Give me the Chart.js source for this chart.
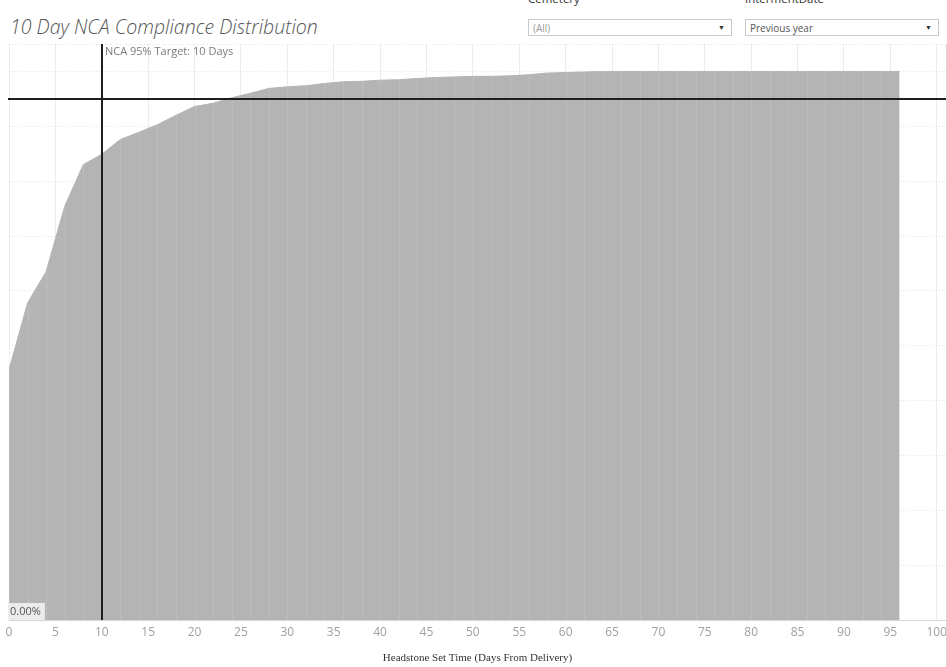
<!DOCTYPE html>
<html>
<head>
<meta charset="utf-8">
<script src="https://cdn.jsdelivr.net/npm/chart.js@4.4.0/dist/chart.umd.min.js"></script>
<style>
  body { margin: 0; background: #fff; width: 947px; height: 667px; overflow: hidden; position: relative; font-family: "Open Sans", sans-serif; }
  #chart { position: absolute; left: 0; top: 0; }
  .title { position: absolute; left: 10px; top: 13px; font-size: 19.5px; font-style: italic; font-weight: 300; color: #555; white-space: nowrap; }
  .flabel { position: absolute; top: -9px; font-size: 11.5px; color: #333; }
  .dd { position: absolute; top: 19px; height: 17px; border: 1px solid #c9c9c9; font-size: 10px; line-height: 16px; padding-left: 4px; box-sizing: border-box; }
  .dd .arr { position: absolute; right: 6px; top: 0; font-size: 7px; color: #333; }
</style>
</head>
<body>
<div class="title">10 Day NCA Compliance Distribution</div>
<div class="flabel" style="left:528px">Cemetery</div>
<div class="dd" style="left:528px; width:204px; color:#9a9a9a">(All)<span class="arr">&#9660;</span></div>
<div class="flabel" style="left:745px">IntermentDate</div>
<div class="dd" style="left:745px; width:194px; color:#555">Previous year<span class="arr">&#9660;</span></div>
<canvas id="chart" width="947" height="667"></canvas>
<script>
// days from delivery (binned) and cumulative % of headstones set
const days = [0, 2, 4, 6, 8, 10, 12, 14, 16, 18, 20, 22, 24, 26, 28, 30, 32, 34, 36, 38, 40, 42, 44, 46, 48,
              50, 52, 54, 56, 58, 60, 62, 64, 66, 68, 70, 72, 74, 76, 78, 80, 82, 84, 86, 88, 90, 92, 94, 96];
const cumPct = [45.6, 57.8, 63.5, 75.4, 83.0, 84.9, 87.6, 88.9, 90.3, 92.0, 93.6, 94.2, 95.2, 96.0, 96.9, 97.2, 97.4, 97.8, 98.1, 98.2, 98.4, 98.5, 98.7, 98.9, 99.0,
                99.1, 99.1, 99.2, 99.4, 99.7, 99.8, 99.9, 100, 100, 100, 100, 100, 100, 100, 100, 100, 100, 100, 100, 100, 100, 100, 100, 100];
const xTicks = [0, 5, 10, 15, 20, 25, 30, 35, 40, 45, 50, 55, 60, 65, 70, 75, 80, 85, 90, 95, 100];
const yGrid = [0, 10, 20, 30, 40, 50, 60, 70, 80, 90, 100, 105];
const targetDay = 10;
const targetPct = 95;
const targetLabel = 'NCA 95% Target: 10 Days';

// extra drawing: faint seams at each point, target lines, labels, border
const overlay = {
    id: 'overlay',
    afterDatasetsDraw(chart) {
        const ctx = chart.ctx;
        const area = chart.chartArea;
        const xs = chart.scales.x, ys = chart.scales.y;
        ctx.save();

        // faint seams between area marks
        ctx.strokeStyle = 'rgba(255,255,255,0.13)';
        ctx.lineWidth = 1;
        chart.getDatasetMeta(0).data.forEach(pt => {
            const x = Math.round(pt.x) + 0.5;
            ctx.beginPath();
            ctx.moveTo(x, pt.y);
            ctx.lineTo(x, area.bottom);
            ctx.stroke();
        });

        // right border
        ctx.strokeStyle = '#e6cfd6';
        ctx.beginPath();
        ctx.moveTo(area.right + 0.5, area.top);
        ctx.lineTo(area.right + 0.5, area.bottom + 47);
        ctx.stroke();

        // target lines
        ctx.strokeStyle = '#1e1e1e';
        ctx.lineWidth = 2;
        const ty = Math.round(ys.getPixelForValue(targetPct));
        ctx.beginPath();
        ctx.moveTo(area.left - 1, ty);
        ctx.lineTo(area.right, ty);
        ctx.stroke();
        const tx = Math.round(xs.getPixelForValue(targetDay));
        ctx.beginPath();
        ctx.moveTo(tx, area.top);
        ctx.lineTo(tx, area.bottom);
        ctx.stroke();

        ctx.font = '11px "Open Sans", sans-serif';
        ctx.fillStyle = '#7a7a7a';
        ctx.textBaseline = 'middle';
        ctx.fillText(targetLabel, tx + 3, area.top + 8);

        // zero label
        ctx.font = '11px "Open Sans", sans-serif';
        const lbl = '0.00%';
        const w = ctx.measureText(lbl).width + 6;
        ctx.fillStyle = '#ececec';
        ctx.fillRect(area.left - 1, area.bottom - 17, w, 17);
        ctx.fillStyle = '#555';
        ctx.fillText(lbl, area.left + 1, area.bottom - 8);
        ctx.restore();
    }
};

new Chart(document.getElementById('chart'), {
    type: 'line',
    data: {
        labels: days,
        datasets: [{
            data: days.map((d, i) => ({ x: d, y: cumPct[i] })),
            backgroundColor: '#b4b4b4',
            borderColor: '#b4b4b4',
            borderWidth: 1,
            pointRadius: 0,
            tension: 0,
            fill: 'origin'
        }]
    },
    options: {
        responsive: false,
        animation: false,
        layout: { padding: { top: 44, left: 9, right: 1, bottom: 0 } },
        plugins: { legend: { display: false }, tooltip: { enabled: false } },
        scales: {
            x: {
                type: 'linear',
                min: 0,
                max: 101,
                afterBuildTicks: s => { s.ticks = xTicks.map(v => ({ value: v })); },
                afterFit: s => { s.height = 47; s.paddingLeft = 0; s.paddingRight = 0; },
                ticks: { color: '#a0a0a0', padding: 5, maxRotation: 0, autoSkip: false, font: { size: 12, family: '"Open Sans", sans-serif' } },
                grid: { color: '#ececec', drawTicks: false },
                border: { color: '#d6d6d6' },
                title: {
                    display: true,
                    text: 'Headstone Set Time (Days From Delivery)',
                    color: '#333',
                    font: { size: 11, family: '"Liberation Serif", "DejaVu Serif", serif' },
                    padding: { top: 0, bottom: 2 }
                }
            },
            y: {
                min: 0,
                max: 105,
                afterBuildTicks: s => { s.ticks = yGrid.map(v => ({ value: v })); },
                afterFit: s => { s.width = 0; },
                ticks: { display: false },
                grid: { color: '#e2e2e2', drawTicks: false },
                border: { display: false, dash: [1, 2] }
            }
        }
    },
    plugins: [overlay]
});
</script>
</body>
</html>
